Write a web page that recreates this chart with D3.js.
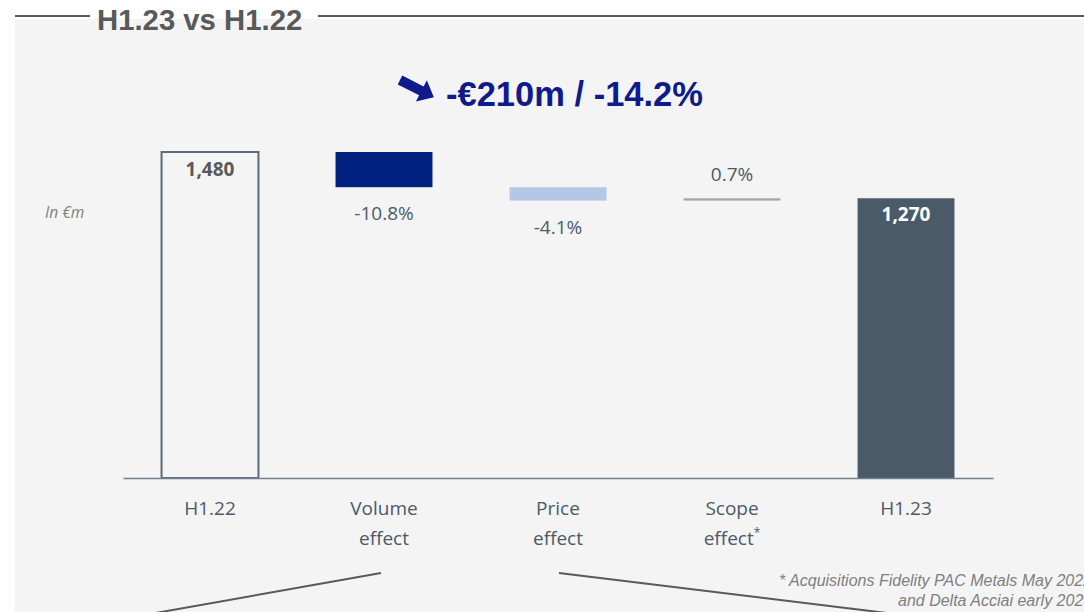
<!DOCTYPE html>
<html>
<head>
<meta charset="utf-8">
<script src="https://cdn.jsdelivr.net/npm/d3@7"></script>
<style>
  body { margin: 0; background: white; }
  svg { display: block; }
</style>
</head>
<body>
<script>
// bridge data, H1.22 -> H1.23, in €m
const categories = ['H1.22', 'Volume effect', 'Price effect', 'Scope effect', 'H1.23']
const labelLines = [['H1.22'], ['Volume', 'effect'], ['Price', 'effect'], ['Scope', 'effect*'], ['H1.23']]
const values = [1480, -159.8, -60.7, 10.4, 1270]
const kinds = ['total', 'delta', 'delta', 'delta', 'total']
const valueLabels = ['1,480', '-10.8%', '-4.1%', '0.7%', '1,270']

const W = 1084, H = 612
const svg = d3.select('body').append('svg').attr('width', W).attr('height', H)

// panel
svg.append('rect').attr('x', 15).attr('y', 19).attr('width', W - 15).attr('height', H - 19).attr('fill', '#f4f4f4')

// title with rule lines
svg.append('line').attr('x1', 15).attr('x2', 90).attr('y1', 16).attr('y2', 16).attr('stroke', '#595959').attr('stroke-width', 2)
svg.append('line').attr('x1', 318).attr('x2', W).attr('y1', 16).attr('y2', 16).attr('stroke', '#595959').attr('stroke-width', 2)
svg.append('text').attr('x', 97).attr('y', 30)
    .attr('font-family', 'Liberation Sans, Arial, sans-serif').attr('font-weight', 'bold').attr('font-size', 29.3)
    .attr('fill', '#595959').text('H1.23 vs H1.22')

// headline
let arrowG = svg.append('g').attr('transform', 'translate(400,80) rotate(27)')
arrowG.append('path')
    .attr('d', 'M0,-5 L24,-5 L24,-12 L38,0 L24,12 L24,5 L0,5 Z')
    .attr('fill', '#0f1a8c')
svg.append('text').attr('x', 446).attr('y', 106)
    .attr('font-family', 'Liberation Sans, Arial, sans-serif').attr('font-weight', 'bold').attr('font-size', 34.5)
    .attr('fill', '#0f1a8c').text('-€210m / -14.2%')

svg.append('text').attr('x', 45).attr('y', 218)
    .attr('font-family', 'Open Sans, sans-serif').attr('font-style', 'italic').attr('font-size', 15.5)
    .attr('fill', '#7f7f7f').text('In €m')

// scales
let x = d3.scaleBand().domain(categories).range([123, 993]).paddingInner(0.443).paddingOuter(0.2215)
let y = d3.scaleLinear().domain([0, 1480]).range([478, 152])

// running totals for the floating bars
let running = 0
let bars = values.map((v, i) => {
    let b
    if (kinds[i] === 'total') {
        b = { lo: 0, hi: v }
        running = v
    } else {
        b = { lo: Math.min(running, running + v), hi: Math.max(running, running + v) }
        running = running + v
    }
    b.cat = categories[i]
    b.i = i
    return b
})

const fills = ['none', '#00207f', '#b4c7e7', '#a6a6a6', '#4a5a68']

let g = svg.append('g')
g.selectAll('rect.bar')
    .data(bars)
    .enter()
    .append('rect')
    .attr('class', 'bar')
    .attr('x', d => x(d.cat))
    .attr('width', x.bandwidth())
    .attr('y', d => y(d.hi))
    .attr('height', d => Math.max(2, y(d.lo) - y(d.hi)))
    .attr('fill', d => fills[d.i])
    .attr('stroke', d => d.i === 0 ? '#5b6b79' : 'none')
    .attr('stroke-width', 2)

// axis baseline
let xAxis = d3.axisBottom(x).tickSize(0).tickFormat('')
let axisG = svg.append('g').attr('transform', 'translate(0,' + y(0) + ')').call(xAxis)
axisG.select('.domain').attr('stroke', '#6f7f8d').attr('stroke-width', 1.5)

// category labels
let labG = svg.append('g')
labelLines.forEach((lines, i) => {
    let t = labG.append('text')
        .attr('x', x(categories[i]) + x.bandwidth() / 2)
        .attr('y', 515)
        .attr('text-anchor', 'middle')
        .attr('font-family', 'Open Sans, sans-serif').attr('font-size', 19)
        .attr('fill', '#4b5a68')
    lines.forEach((ln, j) => {
        let ts = t.append('tspan').attr('x', x(categories[i]) + x.bandwidth() / 2).attr('dy', j === 0 ? 0 : 30)
        if (ln.endsWith('*')) {
            ts.text(ln.slice(0, -1))
            t.append('tspan').attr('font-size', 12).attr('dy', -8).text('*')
        } else {
            ts.text(ln)
        }
    })
})

// value labels
bars.forEach(d => {
    let cx = x(d.cat) + x.bandwidth() / 2
    let t = g.append('text').attr('x', cx).attr('text-anchor', 'middle')
        .attr('font-family', 'Open Sans, sans-serif').attr('font-size', 19)
    if (d.i === 0) {
        t.attr('y', y(d.hi) + 24).attr('font-weight', 'bold').attr('fill', '#595959')
    } else if (d.i === 4) {
        t.attr('y', y(d.hi) + 23).attr('font-weight', 'bold').attr('fill', 'white')
    } else if (values[d.i] < 0) {
        t.attr('y', y(d.lo) + 33).attr('fill', '#4b5a68')
    } else {
        t.attr('y', y(d.hi) - 17).attr('fill', '#4b5a68')
    }
    t.text(valueLabels[d.i])
})

// footnote
let fn = svg.append('text').attr('font-family', 'Liberation Sans, Arial, sans-serif')
    .attr('font-style', 'italic').attr('font-size', 16).attr('fill', '#7f7f7f')
fn.append('tspan').attr('x', 779).attr('y', 586).text('* Acquisitions Fidelity PAC Metals May 2022')
fn.append('tspan').attr('x', 898).attr('y', 606).text('and Delta Acciai early 2023')

// connector lines to the next panel
svg.append('line').attr('x1', 381).attr('y1', 573).attr('x2', 150).attr('y2', 614).attr('stroke', '#595959').attr('stroke-width', 2)
svg.append('line').attr('x1', 559).attr('y1', 573).attr('x2', 895).attr('y2', 614).attr('stroke', '#595959').attr('stroke-width', 2)
</script>
</body>
</html>
